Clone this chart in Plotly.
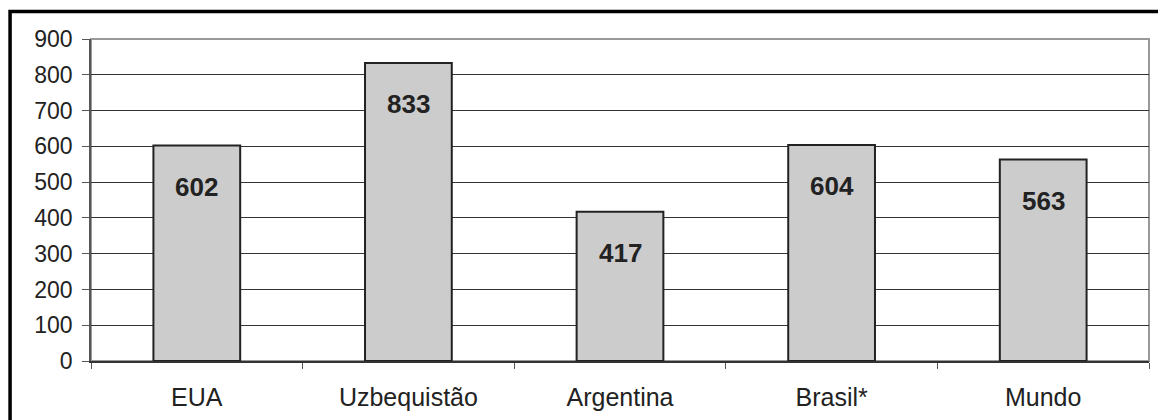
import plotly.graph_objects as go

categories = ["EUA", "Uzbequistão", "Argentina", "Brasil*", "Mundo"]
values = [602, 833, 417, 604, 563]
y_ticks = [0, 100, 200, 300, 400, 500, 600, 700, 800, 900]

FONT = "Liberation Sans, Arial, sans-serif"

fig = go.Figure()
fig.add_trace(go.Bar(
    x=categories, y=values,
    marker=dict(color="#cccccc", line=dict(color="#222222", width=2)),
    width=0.41,
    hoverinfo="skip",
))

for c, v in zip(categories, values):
    fig.add_annotation(x=c, y=v, text="<b>%d</b>" % v, showarrow=False,
                       yshift=-41, font=dict(family=FONT, size=26, color="#222222"))

fig.update_layout(
    width=1158, height=420,
    margin=dict(l=91, r=9, t=39, b=59),
    paper_bgcolor="white", plot_bgcolor="white",
    showlegend=False,
    font=dict(family=FONT, size=23, color="#222222"),
    bargap=0.59,
)
fig.update_yaxes(
    range=[0, 900], tickvals=y_ticks, ticktext=[str(t) for t in y_ticks],
    showgrid=True, gridcolor="#333333", gridwidth=1,
    showline=True, linecolor="#555555", linewidth=1.5,
    ticks="outside", ticklen=7, tickcolor="#555555",
    ticklabelstandoff=5, zeroline=False,
    tickfont=dict(size=23),
)
fig.update_xaxes(
    showline=True, linecolor="#333333", linewidth=1.5,
    ticks="outside", tickson="boundaries", ticklen=6, tickcolor="#555555",
    tickfont=dict(size=25), ticklabelstandoff=13,
)
# plot area border (gray top/right)
fig.add_shape(type="rect", xref="paper", yref="paper", x0=0, x1=1, y0=0, y1=1,
              line=dict(color="#999999", width=2), layer="below")
# outer frame
fig.add_shape(type="rect", xref="paper", yref="paper",
              x0=-0.0765, x1=1.015, y0=-0.2, y1=1.0854,
              line=dict(color="#000000", width=3.5))

fig.write_html("out.html")
